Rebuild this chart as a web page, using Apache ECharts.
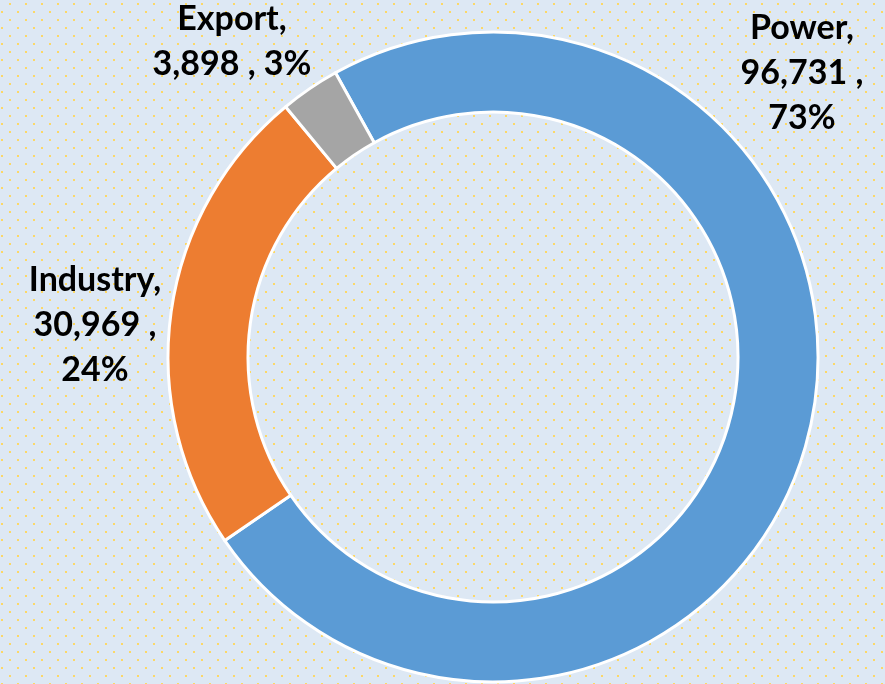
<!DOCTYPE html>
<html>
<head>
<meta charset="utf-8">
<script src="https://cdn.jsdelivr.net/npm/echarts@6/dist/echarts.min.js"></script>
<style>
  html, body { margin: 0; padding: 0; }
  #main { width: 885px; height: 684px; }
</style>
</head>
<body>
<div id="main"></div>
<script>
// data
var categories = ['Power', 'Industry', 'Export'];
var values = [96731, 30969, 3898];
var percents = [73, 24, 3];
var colors = ['#5b9bd5', '#ed7d31', '#a5a5a5'];

// dotted background tile (16x16, two dots)
var tile = document.createElement('canvas');
tile.width = 16;
tile.height = 16;
var ctx = tile.getContext('2d');
ctx.fillStyle = '#dde8f4';
ctx.fillRect(0, 0, 16, 16);
ctx.fillStyle = '#fcd866';
ctx.fillRect(9, 3, 2, 2);
ctx.fillRect(1, 11, 2, 2);

// where each label block sits
var labelSpots = [[802, 73], [95, 325], [232, 42]];

var chart = echarts.init(document.getElementById('main'));

var pieData = categories.map(function (name, i) {
    return { name: name, value: values[i], itemStyle: { color: colors[i] } };
});

var option = {
    backgroundColor: { image: tile, repeat: 'repeat' },
    animation: false,
    series: [
        {
            type: 'pie',
            center: [493, 357],
            radius: [245, 325],
            startAngle: 119,
            clockwise: true,
            data: pieData,
            avoidLabelOverlap: false,
            itemStyle: { borderColor: '#ffffff', borderWidth: 3 },
            label: {
                show: true,
                position: 'outside',
                overflow: 'none',
                color: '#000000',
                fontFamily: 'Lato',
                fontWeight: 'bold',
                fontSize: 34,
                lineHeight: 45,
                align: 'center',
                formatter: function (p) {
                    var v = values[p.dataIndex].toLocaleString('en-US');
                    var pc = percents[p.dataIndex] + '%';
                    if (p.dataIndex === 2) {
                        return p.name + ',\n' + v + ' , ' + pc;
                    }
                    return p.name + ',\n' + v + ' ,\n' + pc;
                }
            },
            labelLine: { show: false },
            labelLayout: function (params) {
                var s = labelSpots[params.dataIndex];
                return { x: s[0], y: s[1], align: 'center', verticalAlign: 'middle', hideOverlap: false };
            }
        }
    ]
};

chart.setOption(option);
</script>
</body>
</html>
